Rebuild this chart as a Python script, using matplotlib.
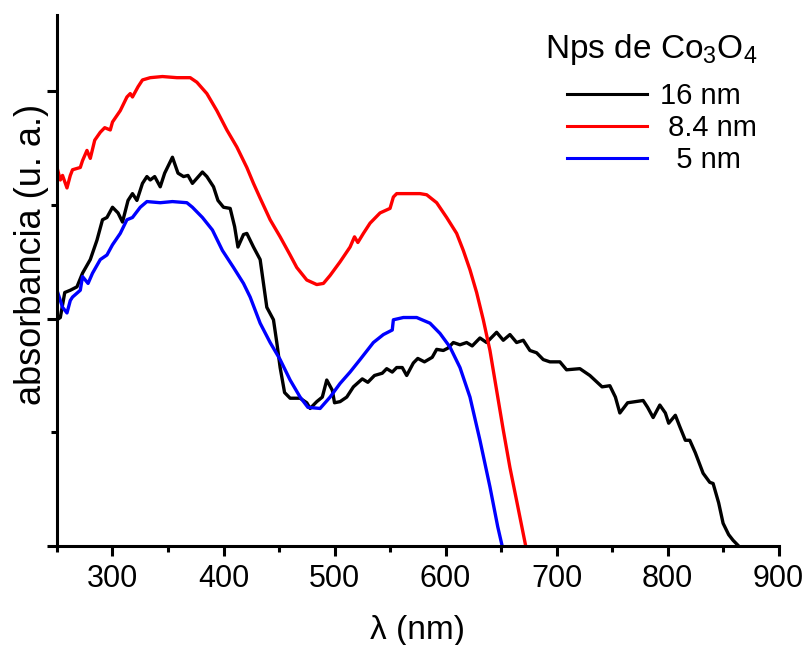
import matplotlib
matplotlib.use('Agg')
import matplotlib.pyplot as plt

plt.rcParams['font.family'] = ['Liberation Sans', 'DejaVu Sans']
plt.rcParams['mathtext.fontset'] = 'custom'
plt.rcParams['mathtext.rm'] = 'Liberation Sans'
plt.rcParams['mathtext.it'] = 'Liberation Sans:italic'

# wavelength (nm) / absorbance (a.u.)
red_x = [250, 253, 255, 259, 262, 264, 271, 273, 277, 280, 284, 289, 293, 298, 300, 307, 313, 316, 318, 323,
         327, 334, 345, 358, 370, 376, 385, 394, 403, 412, 421, 427, 433, 442, 451, 460, 466, 475, 484, 490,
         496, 505, 514, 518, 521, 526, 532, 541, 550, 553, 556, 568, 577, 583, 592, 601, 610, 616, 622, 628,
         634, 640, 646, 652, 658, 664, 672]
red_y = [3.33, 3.22, 3.26, 3.15, 3.26, 3.31, 3.33, 3.39, 3.48, 3.41, 3.57, 3.64, 3.68, 3.66, 3.73, 3.83, 3.95, 3.98, 3.95, 4.04,
         4.10, 4.12, 4.13, 4.12, 4.12, 4.08, 3.98, 3.83, 3.66, 3.51, 3.33, 3.19, 3.06, 2.87, 2.72, 2.56, 2.45, 2.34, 2.30, 2.31,
         2.38, 2.50, 2.63, 2.72, 2.67, 2.75, 2.84, 2.93, 2.97, 3.07, 3.10, 3.10, 3.10, 3.09, 3.02, 2.89, 2.75, 2.60, 2.43, 2.23,
         1.99, 1.72, 1.37, 1.02, 0.69, 0.40, 0.01]

blue_x = [250, 253, 255, 259, 262, 264, 271, 273, 278, 282, 289, 295, 300, 307, 313, 318, 325, 331, 343, 354,
          367, 372, 381, 390, 399, 409, 418, 424, 433, 442, 451, 460, 469, 476, 487, 496, 505, 514, 523, 535,
          544, 552, 553, 562, 574, 586, 595, 604, 613, 622, 631, 640, 647, 651]
blue_y = [2.25, 2.16, 2.10, 2.05, 2.16, 2.19, 2.25, 2.37, 2.31, 2.40, 2.52, 2.56, 2.65, 2.75, 2.87, 2.89, 2.98, 3.03, 3.02, 3.03,
          3.02, 2.98, 2.89, 2.78, 2.60, 2.45, 2.31, 2.19, 1.96, 1.79, 1.64, 1.46, 1.31, 1.22, 1.21, 1.31, 1.43, 1.53, 1.64, 1.79,
          1.86, 1.90, 1.99, 2.01, 2.01, 1.96, 1.87, 1.75, 1.57, 1.31, 0.93, 0.52, 0.17, 0.0]

black_x = [250, 253, 257, 262, 268, 273, 280, 286, 291, 295, 300, 305, 309, 314, 318, 322, 327, 331, 334, 338,
           343, 347, 354, 359, 364, 368, 372, 381, 385, 391, 395, 400, 406, 410, 413, 418, 421, 427, 433, 436,
           439, 445, 448, 451, 455, 460, 469, 475, 478, 484, 489, 493, 498, 500, 505, 511, 517, 525, 530, 536,
           543, 547, 552, 556, 561, 565, 571, 575, 581, 588, 592, 598, 602, 607, 613, 619, 624, 631, 637, 646,
           652, 658, 664, 670, 676, 682, 688, 694, 703, 709, 721, 730, 741, 748, 753, 757, 764, 778, 782, 787,
           793, 798, 801, 807, 811, 816, 820, 825, 832, 838, 841, 846, 850, 855, 859, 863]
black_y = [1.99, 2.01, 2.23, 2.25, 2.28, 2.40, 2.52, 2.69, 2.87, 2.89, 2.98, 2.93, 2.85, 3.04, 3.10, 3.04, 3.19, 3.25, 3.22, 3.25,
           3.16, 3.28, 3.42, 3.28, 3.25, 3.26, 3.19, 3.29, 3.25, 3.16, 3.04, 2.98, 2.97, 2.81, 2.63, 2.74, 2.75, 2.63, 2.52, 2.31,
           2.10, 1.99, 1.79, 1.57, 1.35, 1.30, 1.30, 1.26, 1.21, 1.27, 1.31, 1.46, 1.37, 1.26, 1.27, 1.31, 1.40, 1.47, 1.44, 1.50,
           1.52, 1.56, 1.53, 1.57, 1.57, 1.50, 1.61, 1.65, 1.62, 1.66, 1.73, 1.72, 1.74, 1.79, 1.77, 1.79, 1.76, 1.83, 1.79, 1.88,
           1.81, 1.86, 1.79, 1.81, 1.72, 1.70, 1.64, 1.62, 1.62, 1.55, 1.56, 1.50, 1.40, 1.41, 1.31, 1.17, 1.26, 1.28, 1.22, 1.13,
           1.24, 1.17, 1.08, 1.15, 1.05, 0.93, 0.93, 0.82, 0.64, 0.56, 0.55, 0.38, 0.20, 0.10, 0.05, 0.01]

labels = ['16 nm', ' 8.4 nm', '  5 nm']
colors = ['black', 'red', 'blue']

fig = plt.figure(figsize=(8.06, 6.45), dpi=100)
ax = fig.add_axes([0.0707, 0.1535, 0.8953, 0.823])

ax.plot(black_x, black_y, color=colors[0], lw=2.4, label=labels[0], solid_joinstyle='round')
ax.plot(red_x, red_y, color=colors[1], lw=2.4, label=labels[1], solid_joinstyle='round')
ax.plot(blue_x, blue_y, color=colors[2], lw=2.4, label=labels[2], solid_joinstyle='round')

ax.set_xlim(250, 900)
ax.set_ylim(0, 4.67)
ax.set_xticks([300, 400, 500, 600, 700, 800, 900])
ax.set_xticks([250, 350, 450, 550, 650, 750, 850], minor=True)
ax.set_yticks([0, 2, 4])
ax.set_yticks([1, 3], minor=True)
ax.set_yticklabels([])

for s in ['top', 'right']:
    ax.spines[s].set_visible(False)
for s in ['left', 'bottom']:
    ax.spines[s].set_linewidth(2.2)

ax.tick_params(which='major', direction='out', length=7, width=2.2, labelsize=22, pad=6)
ax.tick_params(which='minor', direction='out', length=4, width=2.2)

ax.set_xlabel('λ (nm)', fontsize=24, labelpad=15)
ax.set_ylabel('absorbancia (u. a.)', fontsize=26)
ax.yaxis.set_label_coords(-0.011, 0.55)

# legend title drawn on its own so the gap below it matches
fig.text(545 / 806, 1 - 58 / 645, 'Nps de Co$_3$O$_4$', fontsize=24, ha='left', va='baseline')
leg = ax.legend(frameon=False, fontsize=21, loc='upper left',
                bbox_to_anchor=(567 / 806, 1 - 82 / 645), bbox_transform=fig.transFigure,
                handlelength=2.74, handletextpad=0.45, labelspacing=0.14,
                borderpad=0, borderaxespad=0)
for line in leg.get_lines():
    line.set_linewidth(2.2)

fig.savefig('out.png', dpi=100)
